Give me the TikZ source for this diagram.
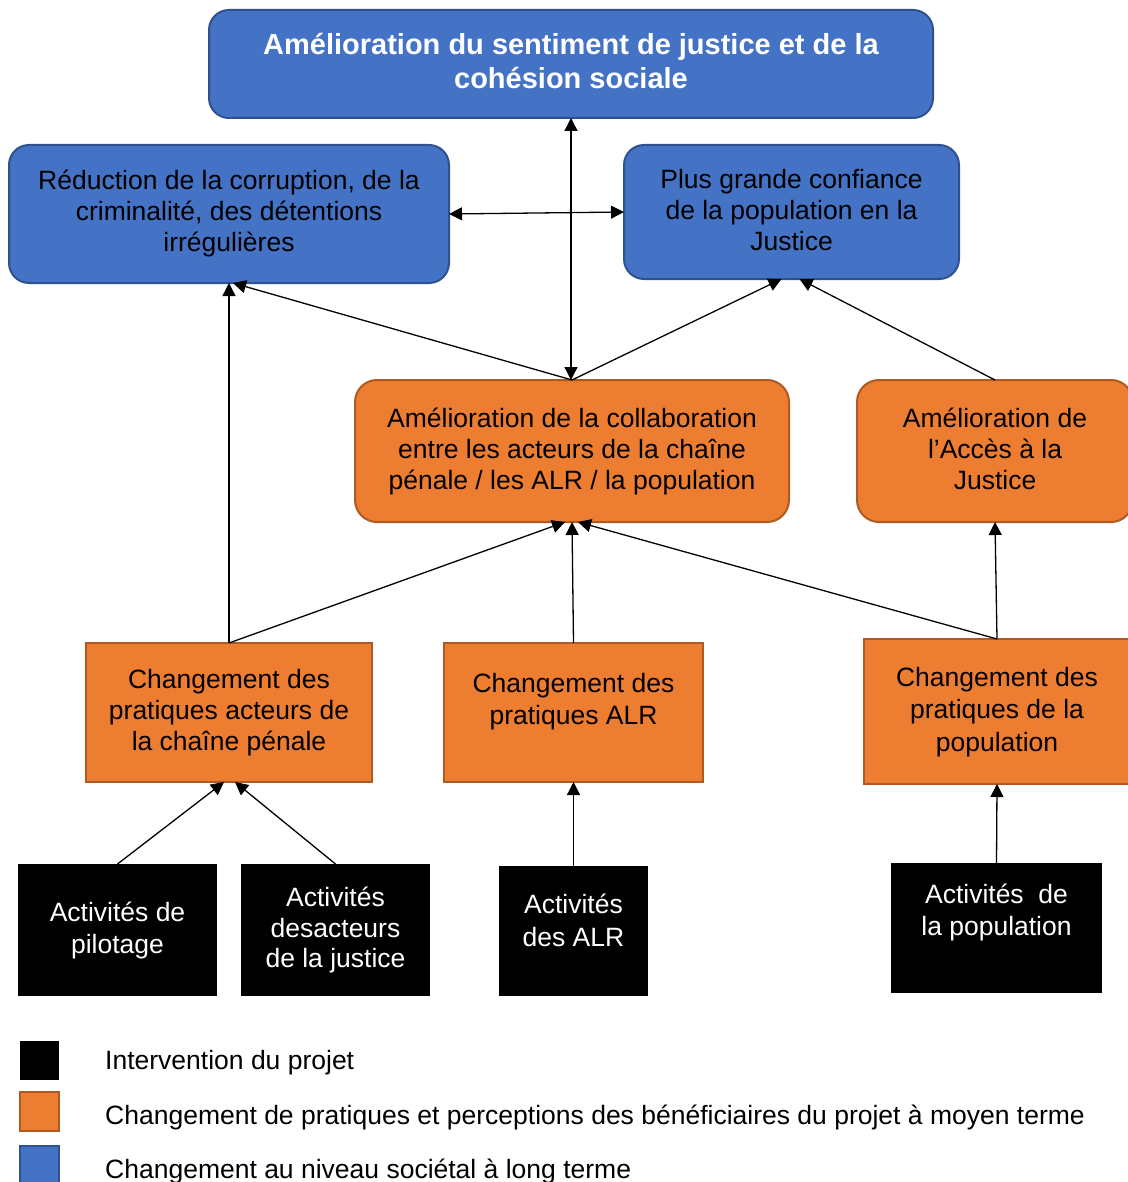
\documentclass[tikz,border=0pt]{standalone}
\usepackage{fontspec}
\setmainfont{Liberation Sans}
\usetikzlibrary{arrows.meta}
\definecolor{bfill}{HTML}{4472C4}
\definecolor{bdraw}{HTML}{2F528F}
\definecolor{ofill}{HTML}{ED7D31}
\definecolor{odraw}{HTML}{AE5A21}
\tikzset{
  base/.style={inner sep=0pt, outer sep=0pt, align=center, font=\fontsize{26.5}{31}\selectfont},
  bluebox/.style={base, draw=bdraw, fill=bfill, line width=2pt, rounded corners=20pt},
  orbox/.style={base, draw=odraw, fill=ofill, line width=2pt, rounded corners=22pt},
  orrect/.style={base, draw=odraw, fill=ofill, line width=2pt},
  blackbox/.style={base, fill=black, text=white, font=\fontsize{26.5}{32}\selectfont},
  txt/.style={base},
  conn/.style={line width=1.3pt, -{Triangle[length=13pt,width=13pt]}},
  dconn/.style={line width=1.3pt, {Triangle[length=13pt,width=13pt]}-{Triangle[length=13pt,width=13pt]}},
  legsq/.style={inner sep=0pt, outer sep=0pt, minimum width=39pt, minimum height=39pt, line width=2pt},
  legtxt/.style={inner sep=0pt, anchor=west, font=\fontsize{26.5}{31}\selectfont}
}
\begin{document}
\begin{tikzpicture}[x=1pt,y=-1pt]
\useasboundingbox[fill=white] (0,0) rectangle (1127,1182);
% blue boxes
\node[bluebox, minimum width=724pt, minimum height=108pt] (top) at (571,64) {};
\node[txt, text=white, font=\bfseries\fontsize{29}{34}\selectfont] (topT) at (571,61) {Amélioration du sentiment de justice et de la\\cohésion sociale};
\node[bluebox, minimum width=440pt, minimum height=138pt] (reduc) at (229,214) {};
\node[txt] (reducT) at (229,213) {Réduction de la corruption, de la\\criminalité, des détentions\\irrégulières};
\node[bluebox, minimum width=335pt, minimum height=134pt] (plus) at (791.5,212) {};
\node[txt] (plusT) at (791.5,210) {Plus grande confiance\\de la population en la\\Justice};
% orange rounded
\node[orbox, minimum width=434pt, minimum height=142pt] (collab) at (572,451) {};
\node[txt] (collabT) at (572,451) {Amélioration de la collaboration\\entre les acteurs de la chaîne\\pénale / les ALR / la population};
\node[orbox, minimum width=276pt, minimum height=142pt] (acces) at (995,451) {};
\node[txt] (accesT) at (995,449) {Amélioration de\\l’Accès à la\\Justice};
% orange rectangles
\node[orrect, minimum width=286pt, minimum height=139pt] (chact) at (229,712.5) {};
\node[txt] (chactT) at (229,713) {Changement des\\pratiques acteurs de\\la chaîne pénale};
\node[orrect, minimum width=259pt, minimum height=139pt] (chalr) at (573.5,712.5) {};
\node[txt, font=\fontsize{26.5}{32}\selectfont] (chalrT) at (573.5,702) {Changement des\\pratiques ALR};
\node[orrect, minimum width=266pt, minimum height=145pt] (chpop) at (997,711.5) {};
\node[txt, font=\fontsize{26.5}{32.5}\selectfont] (chpopT) at (997,712) {Changement des\\pratiques de la\\population};
% black boxes
\node[blackbox, minimum width=199pt, minimum height=132pt] (pil) at (117.5,930) {Activités de\\pilotage};
\node[blackbox, minimum width=189pt, minimum height=132pt, font=\fontsize{26.5}{30.5}\selectfont] (des) at (335.5,930) {Activités\\desacteurs\\de la justice};
\node[blackbox, minimum width=149pt, minimum height=130pt] (aalr) at (573.5,931) {};
\node[txt, text=white, font=\fontsize{26.5}{33}\selectfont] (aalrT) at (573.5,920.5) {Activités\\des ALR};
\node[blackbox, minimum width=211pt, minimum height=130pt] (apop) at (996.5,928) {};
\node[txt, text=white, font=\fontsize{26.5}{32}\selectfont] (apopT) at (996.5,912) {Activités\ \ de\\la population};
% connectors
\draw[dconn] (top.south) -- (top.south |- collab.north);
\draw[dconn] (reduc.east) -- (plus.west);
\draw[conn] (collab.north) -- ([xshift=4pt]reduc.south);
\draw[conn] (collab.north) -- ([xshift=-10pt]plus.south);
\draw[conn] (acces.north) -- ([xshift=8pt]plus.south);
\draw[conn] (chact.north) -- (reduc.south);
\draw[conn] (chact.north) -- ([xshift=-7pt]collab.south);
\draw[conn] (chalr.north) -- (collab.south);
\draw[conn] (chpop.north) -- ([xshift=6pt]collab.south);
\draw[conn] (chpop.north) -- (acces.south);
\draw[conn] (pil.north) -- ([xshift=-5pt]chact.south);
\draw[conn] (des.north) -- ([xshift=6pt]chact.south);
\draw[conn] (aalr.north) -- (chalr.south);
\draw[conn] (apop.north) -- (chpop.south);
% legend
\node[legsq, fill=black] (l1) at (39.5,1060) {};
\node[legsq, fill=ofill, draw=odraw] (l2) at (39.5,1111.5) {};
\node[legsq, fill=bfill, draw=bdraw] (l3) at (39.5,1165.5) {};
\node[legtxt] (l1t) at (105,1063) {Intervention du projet};
\node[legtxt] (l2t) at (105,1117) {Changement de pratiques et perceptions des bénéficiaires du projet à moyen terme};
\node[legtxt] (l3t) at (105,1171) {Changement au niveau sociétal à long terme};
\end{tikzpicture}
\end{document}
